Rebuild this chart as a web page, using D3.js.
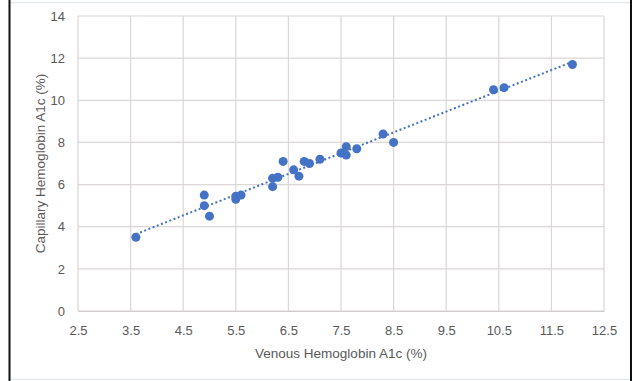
<!DOCTYPE html>
<html>
<head>
<meta charset="utf-8">
<script src="https://cdn.jsdelivr.net/npm/d3@7"></script>
<style>
  body { margin: 0; background: #fff; }
  svg { display: block; font-family: "Liberation Sans", Arial, sans-serif; }
</style>
</head>
<body>
<div id="chart"></div>
<script>
// venous vs capillary HbA1c readings
var venous    = [3.6, 4.9, 4.9, 5.0, 5.5, 5.5, 5.6, 6.2, 6.2, 6.3, 6.4, 6.6, 6.7, 6.8, 6.9, 7.1, 7.5, 7.6, 7.6, 7.8, 8.3, 8.5, 10.4, 10.6, 11.9];
var capillary = [3.5, 5.5, 5.0, 4.5, 5.3, 5.45, 5.5, 5.9, 6.3, 6.35, 7.1, 6.7, 6.4, 7.1, 7.0, 7.2, 7.5, 7.8, 7.4, 7.7, 8.4, 8.0, 10.5, 10.6, 11.7];
var xTicks = [2.5, 3.5, 4.5, 5.5, 6.5, 7.5, 8.5, 9.5, 10.5, 11.5, 12.5];
var yTicks = [0, 2, 4, 6, 8, 10, 12, 14];

var width = 635, height = 381;
var margin = {left: 78, top: 16, right: 31, bottom: 70};
var w = width - margin.left - margin.right, h = height - margin.top - margin.bottom;

var svg = d3.select('#chart').append('svg').attr('width', width).attr('height', height);

// outer frame
svg.append('rect').attr('x', 9.5).attr('y', 2.5).attr('width', 621).attr('height', 377)
  .attr('fill', '#fff').attr('stroke', '#e3e9ee').attr('stroke-width', 1.5);
svg.append('line').attr('x1', 9.5).attr('x2', 9.5).attr('y1', 0).attr('y2', 381).attr('stroke', '#111').attr('stroke-width', 2);
svg.append('line').attr('x1', 631).attr('x2', 631).attr('y1', 0).attr('y2', 381).attr('stroke', '#111').attr('stroke-width', 2);

var g = svg.append('g').attr('transform', 'translate(' + margin.left + ',' + margin.top + ')');

var x = d3.scaleLinear().domain([2.5, 12.5]).range([0, w]);
var y = d3.scaleLinear().domain([0, 14]).range([h, 0]);

// grid
g.selectAll('.vgrid').data(xTicks).enter().append('line')
  .attr('x1', d => x(d)).attr('x2', d => x(d)).attr('y1', 0).attr('y2', h)
  .attr('stroke', '#dcd6d6').attr('stroke-width', 1.2);
g.selectAll('.hgrid').data(yTicks).enter().append('line')
  .attr('x1', 0).attr('x2', w).attr('y1', d => y(d)).attr('y2', d => y(d))
  .attr('stroke', '#dcd6d6').attr('stroke-width', 1.2);

var xAxis = d3.axisBottom(x).tickValues(xTicks).tickSize(0).tickPadding(15).tickFormat(d3.format('.1f'));
var yAxis = d3.axisLeft(y).tickValues(yTicks).tickSize(0).tickPadding(13);

var xa = g.append('g').attr('transform', 'translate(0,' + h + ')').call(xAxis);
var ya = g.append('g').call(yAxis);
[xa, ya].forEach(function(a) {
  a.select('.domain').attr('stroke', '#d0cccc');
  a.selectAll('text').attr('fill', '#595959').style('font-size', '13px');
});
ya.select('.domain').remove();

// linear trendline from least squares fit
var mx = d3.mean(venous), my = d3.mean(capillary);
var sxy = d3.sum(venous, (v, i) => (v - mx) * (capillary[i] - my));
var sxx = d3.sum(venous, v => (v - mx) * (v - mx));
var slope = sxy / sxx, icpt = my - slope * mx;
var xr = d3.extent(venous);
g.append('line')
  .attr('x1', x(xr[0])).attr('y1', y(icpt + slope * xr[0]))
  .attr('x2', x(xr[1])).attr('y2', y(icpt + slope * xr[1]))
  .attr('stroke', '#4472c4').attr('stroke-width', 2).attr('stroke-dasharray', '2,2.5');

g.selectAll('circle').data(venous).enter().append('circle')
  .attr('cx', d => x(d)).attr('cy', (d, i) => y(capillary[i])).attr('r', 4.5)
  .attr('fill', '#4472c4');

// axis titles
svg.append('text').attr('x', margin.left + w / 2).attr('y', 358).attr('text-anchor', 'middle')
  .attr('fill', '#595959').style('font-size', '13.5px').text('Venous Hemoglobin A1c (%)');
svg.append('text').attr('transform', 'translate(45,' + (margin.top + h / 2) + ') rotate(-90)')
  .attr('text-anchor', 'middle').attr('fill', '#595959').style('font-size', '13.5px')
  .text('Capillary Hemoglobin A1c (%)');
</script>
</body>
</html>
